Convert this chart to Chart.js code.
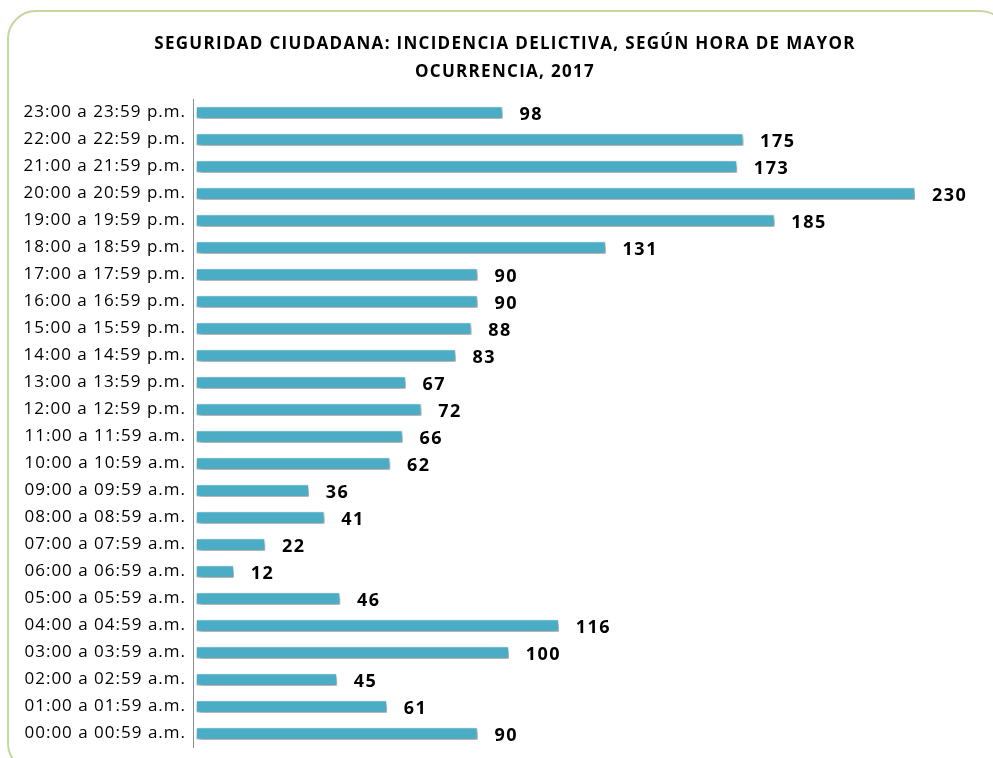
<!DOCTYPE html>
<html>
<head>
<meta charset="utf-8">
<script src="https://cdn.jsdelivr.net/npm/chart.js@4.4.1/dist/chart.umd.min.js"></script>
<style>
    html, body { margin: 0; padding: 0; background: #fff; }
    #wrap { width: 993px; height: 758px; }
</style>
</head>
<body>
<div id="wrap"><canvas id="myChart"></canvas></div>
<script>
// horas del día, de 00:00 a 23:00
const horas = [
    '00:00 a 00:59 a.m.', '01:00 a 01:59 a.m.', '02:00 a 02:59 a.m.', '03:00 a 03:59 a.m.',
    '04:00 a 04:59 a.m.', '05:00 a 05:59 a.m.', '06:00 a 06:59 a.m.', '07:00 a 07:59 a.m.',
    '08:00 a 08:59 a.m.', '09:00 a 09:59 a.m.', '10:00 a 10:59 a.m.', '11:00 a 11:59 a.m.',
    '12:00 a 12:59 p.m.', '13:00 a 13:59 p.m.', '14:00 a 14:59 p.m.', '15:00 a 15:59 p.m.',
    '16:00 a 16:59 p.m.', '17:00 a 17:59 p.m.', '18:00 a 18:59 p.m.', '19:00 a 19:59 p.m.',
    '20:00 a 20:59 p.m.', '21:00 a 21:59 p.m.', '22:00 a 22:59 p.m.', '23:00 a 23:59 p.m.'
];
const casos = [90, 61, 45, 100, 116, 46, 12, 22, 41, 36, 62, 66, 72, 67, 83, 88, 90, 90, 131, 185, 230, 173, 175, 98];
const titulo = ['SEGURIDAD CIUDADANA: INCIDENCIA DELICTIVA, SEGÚN HORA DE MAYOR', 'OCURRENCIA, 2017'];

const FONT = "'Open Sans', Lato, sans-serif";

// marco verde redondeado y título
const marco = {
    id: 'marco',
    beforeDraw(chart) {
        const c = chart.ctx;
        const x = 8, y = 11, w = 1000, h = 760, r = 28;
        c.save();
        c.strokeStyle = '#c4d89d';
        c.lineWidth = 2;
        c.beginPath();
        c.moveTo(x + r, y);
        c.lineTo(x + w - r, y);
        c.arcTo(x + w, y, x + w, y + r, r);
        c.lineTo(x + w, y + h - r);
        c.arcTo(x + w, y + h, x + w - r, y + h, r);
        c.lineTo(x + r, y + h);
        c.arcTo(x, y + h, x, y + h - r, r);
        c.lineTo(x, y + r);
        c.arcTo(x, y, x + r, y, r);
        c.closePath();
        c.stroke();

        c.fillStyle = '#000';
        c.font = "bold 17px " + FONT;
        c.letterSpacing = '1.3px';
        c.textAlign = 'center';
        c.textBaseline = 'middle';
        c.fillText(titulo[0], 505, 44);
        c.fillText(titulo[1], 505, 72);
        c.restore();

        // etiquetas del eje un poco más espaciadas
        c.letterSpacing = '1px';
    },
    afterDraw(chart) {
        chart.ctx.letterSpacing = '0px';
    }
};

// sombra de las barras
const sombra = {
    id: 'sombra',
    beforeDatasetsDraw(chart) {
        const c = chart.ctx;
        c.save();
        c.shadowColor = 'rgba(0, 0, 0, 0.45)';
        c.shadowBlur = 5;
        c.shadowOffsetX = 2;
        c.shadowOffsetY = 3;
    },
    afterDatasetsDraw(chart) {
        chart.ctx.restore();
    }
};

// valores al final de cada barra
const etiquetas = {
    id: 'etiquetas',
    afterDatasetsDraw(chart) {
        const c = chart.ctx;
        const meta = chart.getDatasetMeta(0);
        c.save();
        c.font = "bold 18px " + FONT;
        c.letterSpacing = '1.5px';
        c.fillStyle = '#000';
        c.textAlign = 'left';
        c.textBaseline = 'middle';
        meta.data.forEach((bar, i) => {
            c.fillText(casos[i], bar.x + 17, bar.y + 2);
        });
        c.restore();
    }
};

new Chart(document.getElementById('myChart'), {
    type: 'bar',
    data: {
        labels: horas,
        datasets: [{
            data: casos,
            backgroundColor: '#4bacc6',
            borderColor: '#ffffff',
            borderWidth: 1,
            borderSkipped: false,
            barThickness: 12
        }]
    },
    options: {
        indexAxis: 'y',
        responsive: true,
        maintainAspectRatio: false,
        animation: false,
        layout: {
            padding: { left: 14, right: 78, top: 99, bottom: 11 }
        },
        plugins: {
            legend: { display: false },
            tooltip: { enabled: false },
            title: { display: false }
        },
        scales: {
            x: {
                display: false,
                min: -1,
                max: 230
            },
            y: {
                reverse: true,
                grid: { display: false, drawTicks: false },
                border: { display: true, color: '#8c8c8c', width: 1 },
                ticks: {
                    color: '#000',
                    padding: 7,
                    font: { family: FONT, size: 17 }
                },
                afterFit(scale) {
                    scale.width = 179;
                    scale.paddingTop = 0;
                    scale.paddingBottom = 0;
                }
            }
        }
    },
    plugins: [marco, sombra, etiquetas]
});
</script>
</body>
</html>
